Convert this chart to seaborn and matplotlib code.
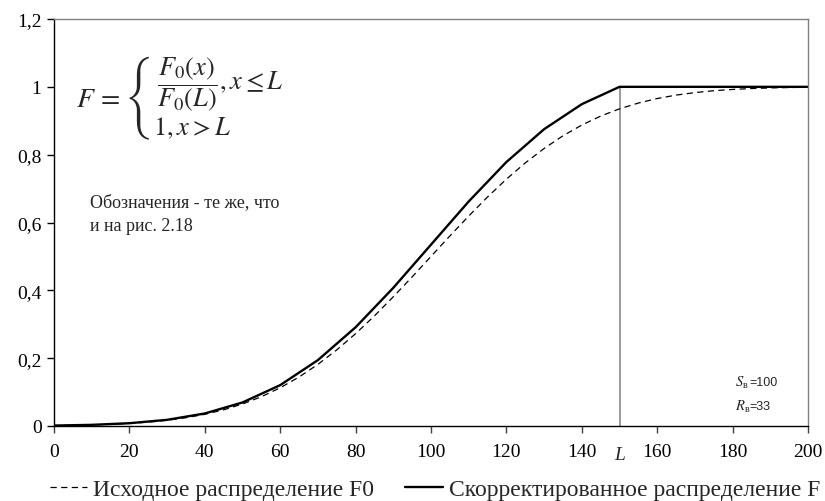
import matplotlib
matplotlib.use("Agg")
import matplotlib.pyplot as plt
import matplotlib.transforms as mtransforms
import seaborn as sns
import pandas as pd

# ---- data ----
x_f0 = [0, 5, 10, 15, 20, 25, 30, 35, 40, 45, 50, 55, 60, 65, 70, 75, 80, 85, 90, 95,
        100, 105, 110, 115, 120, 125, 130, 135, 140, 145, 150, 155, 160, 165, 170, 175,
        180, 185, 190, 195, 200]
f0 = [0.0012, 0.0020, 0.0032, 0.0050, 0.0077, 0.0115, 0.0170, 0.0244, 0.0345, 0.0478,
      0.0649, 0.0863, 0.1127, 0.1444, 0.1817, 0.2244, 0.2722, 0.3247, 0.3810, 0.4397,
      0.5000, 0.5603, 0.6190, 0.6753, 0.7278, 0.7756, 0.8183, 0.8556, 0.8873, 0.9137,
      0.9351, 0.9522, 0.9655, 0.9756, 0.9830, 0.9885, 0.9923, 0.9950, 0.9968, 0.9980,
      0.9988]
x_f = [0, 10, 20, 30, 40, 50, 60, 70, 80, 90, 100, 110, 120, 130, 140, 150, 160, 170,
       180, 190, 200]
f = [0.0013, 0.0034, 0.0082, 0.0182, 0.0369, 0.0694, 0.1205, 0.1943, 0.2911, 0.4074,
     0.5347, 0.6620, 0.7783, 0.8751, 0.9489, 1.0, 1.0, 1.0, 1.0, 1.0, 1.0]
L_value = 150
x_ticks = [0, 20, 40, 60, 80, 100, 120, 140, 160, 180, 200]
y_ticks = [0, 0.2, 0.4, 0.6, 0.8, 1.0, 1.2]
y_tick_labels = ["0", "0,2", "0,4", "0,6", "0,8", "1", "1,2"]
label_f0 = "Исходное распределение F0"
label_f = "Скорректированное распределение F"
note_text = "Обозначения - те же, что\nи на рис. 2.18"

sns.set_style("ticks")
plt.rcParams["font.family"] = ["Liberation Serif", "DejaVu Serif"]
plt.rcParams["mathtext.fontset"] = "stix"

fig = plt.figure(figsize=(8.25, 5.02), dpi=100)
ax = fig.add_axes([54 / 825, 75 / 502, 754 / 825, 407 / 502])

df0 = pd.DataFrame({"x": x_f0, "y": f0})
df1 = pd.DataFrame({"x": x_f, "y": f})
sns.lineplot(data=df0, x="x", y="y", ax=ax, color="black", lw=0.9,
             linestyle=(0, (5, 3.5)), label=label_f0)
sns.lineplot(data=df1, x="x", y="y", ax=ax, color="black", lw=1.7,
             label=label_f)

ax.vlines(L_value, 0, 1, color="#808080", lw=1.1, zorder=1)

ax.set_xlim(0, 200)
ax.set_ylim(0, 1.2)
ax.set_xticks(x_ticks)
ax.set_xticklabels([str(v) for v in x_ticks])
ax.set_yticks(y_ticks)
ax.set_yticklabels(y_tick_labels)
ax.set_xlabel("")
ax.set_ylabel("")
ax.tick_params(axis="both", direction="out", length=5, width=1, labelsize=14,
               colors="black")
ax.tick_params(axis="x", pad=7, color="#404040")
ax.tick_params(axis="y", pad=4)
for s in ["left", "bottom"]:
    ax.spines[s].set_color("black")
    ax.spines[s].set_linewidth(1)
for s in ["top", "right"]:
    ax.spines[s].set_visible(True)
    ax.spines[s].set_color("#808080")
    ax.spines[s].set_linewidth(1)

# L label under axis
trans = mtransforms.blended_transform_factory(ax.transData, ax.transAxes)
ax.text(L_value, -0.07, "L", transform=trans, ha="center", va="center",
        fontsize=14, style="italic")

# formula
ax.text(0.029, 0.803, r"$F\,=\,$", transform=ax.transAxes, ha="left",
        va="center", fontsize=20)
ax.text(0.093, 0.808,
        r"$\left\{\genfrac{}{}{0}{0}{\dfrac{F_0\left(x\right)}{F_0\left(L\right)}, x\leq L}{1, x>L\qquad\quad}\right.$",
        transform=ax.transAxes, ha="left", va="center", fontsize=19)

ax.text(0.048, 0.522, note_text, transform=ax.transAxes, ha="left", va="center",
        fontsize=13, linespacing=1.55)

ax.text(0.903, 0.108, r"$S_{\mathregular{в}}$", transform=ax.transAxes,
        ha="left", va="center", fontsize=10.5)
ax.text(0.922, 0.108, "=100", transform=ax.transAxes, ha="left", va="center",
        fontsize=9, family="Liberation Sans")
ax.text(0.903, 0.049, r"$R_{\mathregular{в}}$", transform=ax.transAxes,
        ha="left", va="center", fontsize=10.5)
ax.text(0.922, 0.049, "=33", transform=ax.transAxes, ha="left", va="center",
        fontsize=9, family="Liberation Sans")

ax.legend(loc="center", bbox_to_anchor=(0.505, -0.155), ncol=2, frameon=False,
          fontsize=17, handlelength=1.6, handletextpad=0.25, columnspacing=1.3,
          borderaxespad=0)

fig.savefig("out.png", dpi=100)
